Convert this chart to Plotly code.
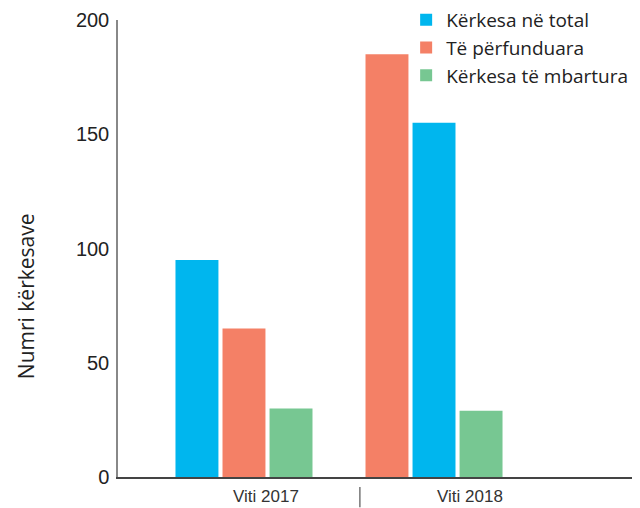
import plotly.graph_objects as go

years = ["Viti 2017", "Viti 2018"]
series_names = ["Kërkesa në total", "Të përfunduara", "Kërkesa të mbartura"]
total = [95, 155]
completed = [65, 185]
carried = [30, 29]
y_ticks = [0, 50, 100, 150, 200]
y_title = "Numri kërkesave"

colors = ["#00B6EE", "#F48066", "#77C792"]
# slot of each series within each year group (-1 left, 0 middle, 1 right)
slot_order = {
    "Kërkesa në total": [-1, 0],
    "Të përfunduara": [0, -1],
    "Kërkesa të mbartura": [1, 1],
}
bar_w = 0.226
slot_step = 0.2475

fig = go.Figure()
for name, vals, col in zip(series_names, [total, completed, carried], colors):
    offs = [-bar_w / 2 + s * slot_step for s in slot_order[name]]
    fig.add_trace(go.Bar(
        x=[0, 1], y=vals, name=name, marker=dict(color=col, line=dict(width=0)),
        width=[bar_w, bar_w], offset=offs, hoverinfo="y+name",
    ))

# page has an 8px body margin, so the figure is 8px smaller than the window
fig.update_layout(
    width=632, height=500, barmode="overlay",
    plot_bgcolor="white", paper_bgcolor="white",
    margin=dict(l=110, r=0, t=12, b=31, autoexpand=False),
    font=dict(family="Liberation Sans, Arial, sans-serif", color="#222"),
    legend=dict(x=0.552, y=1.0416, xref="paper", yref="paper",
                xanchor="left", yanchor="top",
                font=dict(family="Open Sans, sans-serif", size=19, color="#222"),
                bgcolor="rgba(0,0,0,0)", itemwidth=30, tracegroupgap=0),
    showlegend=True,
)
fig.update_xaxes(
    type="linear", range=[-0.663, 2.084], showticklabels=False, ticks="",
    showgrid=False, zeroline=False, showline=True, linecolor="#444", linewidth=1.5,
)
fig.update_yaxes(
    range=[0, 200], tickvals=y_ticks, ticktext=[str(v) for v in y_ticks],
    showgrid=False, zeroline=False, showline=True, linecolor="#888", linewidth=1.5,
    ticks="", tickfont=dict(size=20, color="#222"), ticklabelstandoff=3,
)
label_pos = [0.116, 1.19]
for lab, xp in zip(years, label_pos):
    fig.add_annotation(x=xp, y=-0.042, xref="x", yref="paper", text=lab,
                       showarrow=False, yanchor="middle",
                       font=dict(family="Liberation Sans, Arial, sans-serif", size=17, color="#333"))
fig.add_shape(type="line", x0=0.61, x1=0.61, xref="x", y0=-0.022, y1=-0.066, yref="paper",
              line=dict(color="#555", width=1.2))
fig.add_annotation(x=-0.176, y=0.396, xref="paper", yref="paper", text=y_title, textangle=-90,
                   showarrow=False, xanchor="center", yanchor="middle",
                   font=dict(family="Open Sans, sans-serif", size=21, color="#222"))

fig.write_html("out.html")
